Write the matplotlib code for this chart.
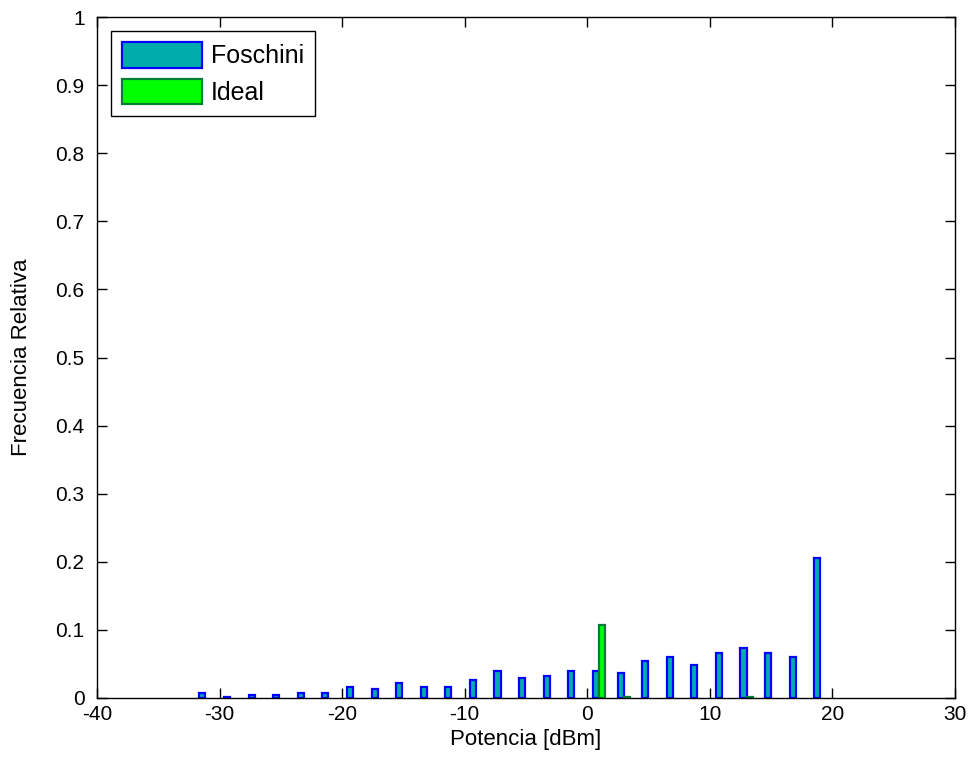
import numpy as np
import matplotlib.pyplot as plt

plt.rcParams['font.family'] = ['Liberation Sans', 'DejaVu Sans']

# bin centres of the histogram (dBm)
centros = [-31.15, -29.14, -27.14, -25.13, -23.12, -21.12, -19.11, -17.10,
           -15.09, -13.09, -11.08, -9.07, -7.07, -5.06, -3.05, -1.05,
           0.96, 2.97, 4.98, 6.98, 8.99, 11.00, 13.00, 15.01, 17.02, 19.02]

# relative frequency, Foschini algorithm
foschini = [0.008, 0.002, 0.005, 0.005, 0.008, 0.008, 0.016, 0.013,
            0.022, 0.016, 0.016, 0.027, 0.040, 0.030, 0.033, 0.040,
            0.040, 0.036, 0.054, 0.060, 0.048, 0.066, 0.074, 0.066,
            0.060, 0.206]

# relative frequency, ideal case
ideal = [0, 0, 0, 0, 0, 0, 0, 0,
         0, 0, 0, 0, 0, 0, 0, 0,
         0.107, 0.002, 0, 0, 0, 0, 0.002, 0,
         0, 0]

xt = [-40, -30, -20, -10, 0, 10, 20, 30]
yt = [0, 0.1, 0.2, 0.3, 0.4, 0.5, 0.6, 0.7, 0.8, 0.9, 1]
yt_lab = ['0', '0.1', '0.2', '0.3', '0.4', '0.5', '0.6', '0.7', '0.8', '0.9', '1']

fig = plt.figure(figsize=(9.72, 7.74), dpi=100)
ax = fig.add_axes([0.0998, 0.0982, 0.8827, 0.8798])

c = np.array(centros)
w = 0.5
f = np.array(foschini)
i = np.array(ideal)
ax.bar(c - w/2, f, width=w, color=(0, 0.68, 0.68), edgecolor=(0, 0, 1),
       linewidth=1.6, label='Foschini')
m = i > 0  # empty bins are not drawn
ax.bar(c[m] + w/2, i[m], width=w, color=(0, 1, 0), edgecolor=(0, 0.5, 0.2),
       linewidth=1.6, label='Ideal')

ax.set_xlim(-40, 30)
ax.set_ylim(0, 1)
ax.set_xticks(xt)
ax.set_xticklabels([str(v) for v in xt])
ax.set_yticks(yt)
ax.set_yticklabels(yt_lab)
ax.tick_params(direction='in', top=True, right=True, length=7, width=1,
               labelsize=15)
ax.tick_params(axis='y', pad=9)
ax.tick_params(axis='x', pad=5)
for s in ax.spines.values():
    s.set_linewidth(1)

ax.set_xlabel('Potencia [dBm]', fontsize=16, labelpad=4)
ax.set_ylabel('Frecuencia Relativa', fontsize=16, labelpad=17)

leg = ax.legend(loc='upper left', fontsize=18, fancybox=False, framealpha=1,
                edgecolor='black', borderaxespad=0.55, handlelength=3.2,
                handleheight=1.2, handletextpad=0.35, labelspacing=0.42,
                borderpad=0.45)
leg.get_frame().set_linewidth(1)

fig.savefig('out.png', dpi=100)
